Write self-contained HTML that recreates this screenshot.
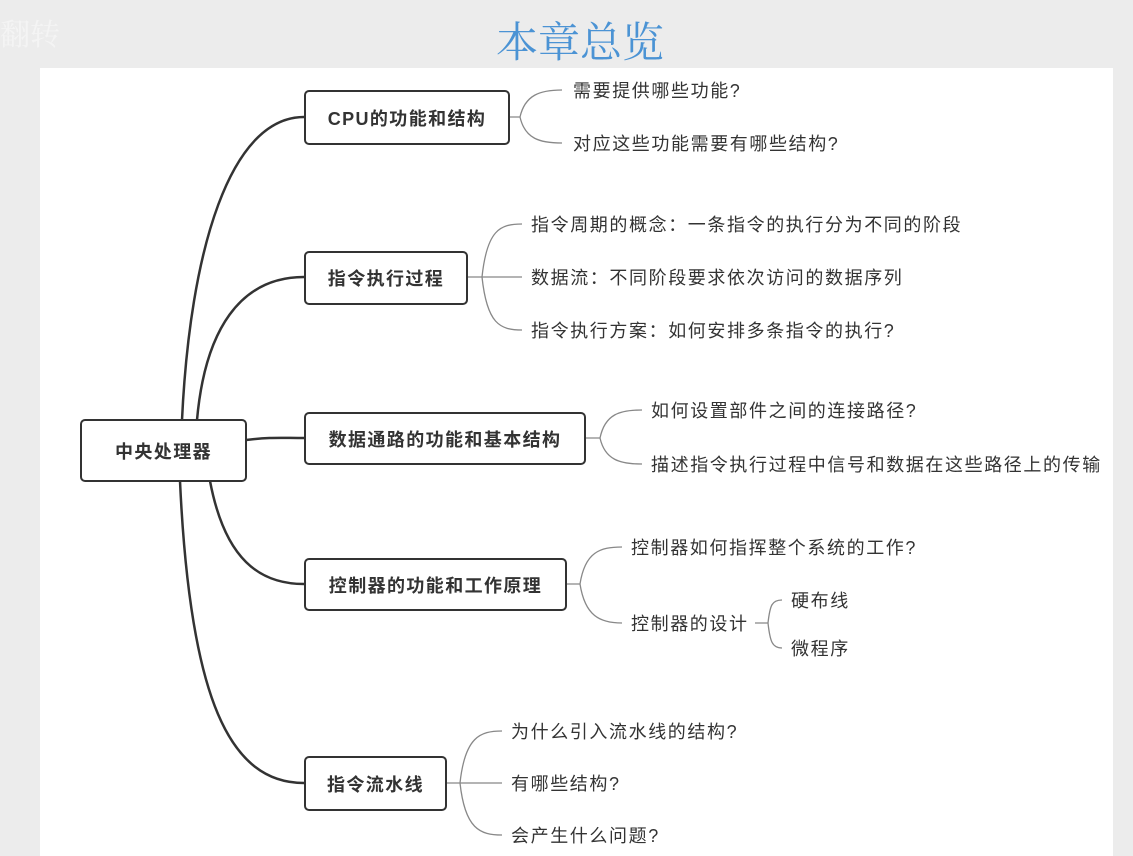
<!DOCTYPE html>
<html><head><meta charset="utf-8"><style>
body{margin:0;width:1133px;height:856px;background:#ececec;overflow:hidden;position:relative;font-family:"Liberation Sans","Noto Sans CJK SC",sans-serif}
.title{position:absolute;left:460px;top:12px;width:240px;text-align:center;font-family:"Noto Serif CJK SC",serif;font-size:42px;color:#4b93d4;line-height:56px}
.wm{position:absolute;left:0;top:10px;font-size:30px;color:#f4f4f4;font-family:"Noto Serif CJK SC",serif}
.panel{position:absolute;left:40px;top:68px;width:1073px;height:788px;background:#fff}
.box{position:absolute;border:2.5px solid #333;border-radius:5px;background:#fff;box-sizing:border-box;display:flex;align-items:center;justify-content:center;font-size:18px;letter-spacing:1.4px;font-weight:bold;color:#333}
.t{position:absolute;font-size:18px;letter-spacing:1.6px;color:#333;line-height:22px;white-space:nowrap}
svg{position:absolute;left:0;top:0}
</style></head><body>
<div class="wm">翻转</div>
<div class="title">本章总览</div>
<div class="panel"></div>
<svg width="1133" height="856">
<g fill="none" stroke="#333" stroke-width="2.5">
<path d="M182 420 C190 250 230 117 304 117"/>
<path d="M197 420 C205 330 240 277 304 277"/>
<path d="M246 440 C270 437 280 438 304 438"/>
<path d="M210 481 C225 560 260 584 304 584"/>
<path d="M180 481 C190 700 230 783 304 783"/>
</g>
<g fill="none" stroke="#888" stroke-width="1.3">
<path d="M509 117 H520 M520 117 C525 95 540 90 562 90 M520 117 C525 139 540 143 562 143"/>
<path d="M467 277 H482 M482 277 C487 230 500 224 522 224 M482 277 H522 M482 277 C487 324 500 330 522 330"/>
<path d="M585 438 H600 M600 438 C605 414 620 410 642 410 M600 438 C605 460 620 464 642 464"/>
<path d="M566 584 H580 M580 584 C585 552 600 547 622 547 M580 584 C585 616 600 623 622 623"/>
<path d="M755 623 H768 M768 623 C770 605 772 600 782 600 M768 623 C770 641 772 648 782 648"/>
<path d="M446 783 H460 M460 783 C465 737 480 731 502 731 M460 783 H502 M460 783 C465 829 480 835 502 835"/>
</g>
</svg>
<div class="box" style="left:80px;top:419px;width:167px;height:63px">中央处理器</div>
<div class="box" style="left:304px;top:90px;width:206px;height:55px">CPU的功能和结构</div>
<div class="box" style="left:304px;top:251px;width:164px;height:54px">指令执行过程</div>
<div class="box" style="left:304px;top:412px;width:282px;height:53px">数据通路的功能和基本结构</div>
<div class="box" style="left:304px;top:558px;width:263px;height:53px">控制器的功能和工作原理</div>
<div class="box" style="left:304px;top:756px;width:143px;height:55px">指令流水线</div>
<div class="t" style="left:573px;top:80px">需要提供哪些功能?</div>
<div class="t" style="left:573px;top:133px">对应这些功能需要有哪些结构?</div>
<div class="t" style="left:531px;top:214px">指令周期的概念：一条指令的执行分为不同的阶段</div>
<div class="t" style="left:531px;top:267px">数据流：不同阶段要求依次访问的数据序列</div>
<div class="t" style="left:531px;top:320px">指令执行方案：如何安排多条指令的执行?</div>
<div class="t" style="left:651px;top:400px">如何设置部件之间的连接路径?</div>
<div class="t" style="left:651px;top:454px">描述指令执行过程中信号和数据在这些路径上的传输</div>
<div class="t" style="left:631px;top:537px">控制器如何指挥整个系统的工作?</div>
<div class="t" style="left:631px;top:613px">控制器的设计</div>
<div class="t" style="left:791px;top:590px">硬布线</div>
<div class="t" style="left:791px;top:638px">微程序</div>
<div class="t" style="left:511px;top:721px">为什么引入流水线的结构?</div>
<div class="t" style="left:511px;top:773px">有哪些结构?</div>
<div class="t" style="left:511px;top:825px">会产生什么问题?</div>
</body></html>
